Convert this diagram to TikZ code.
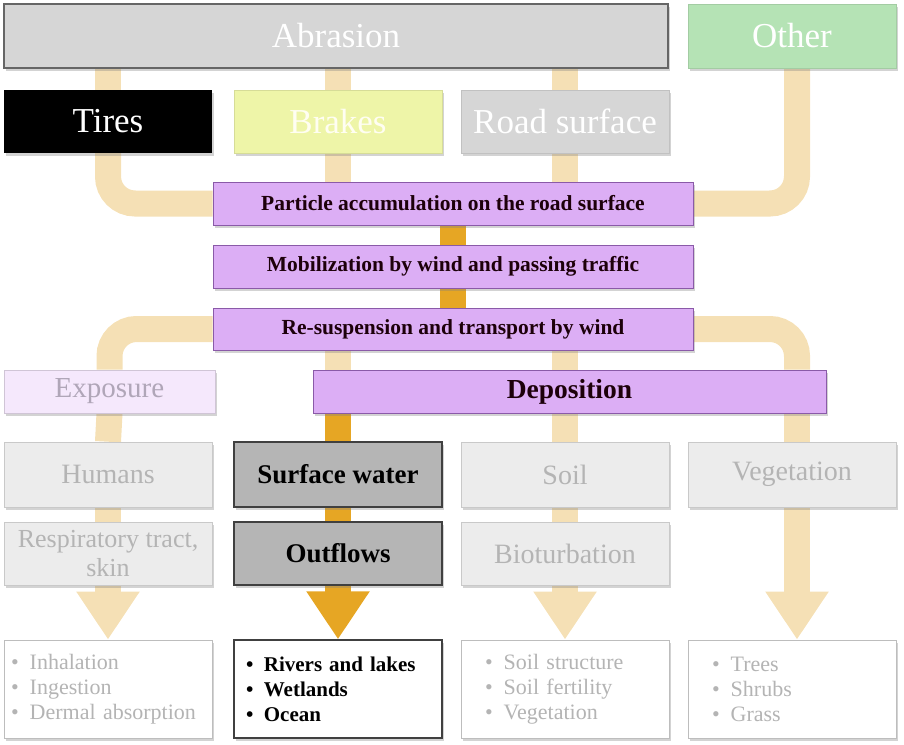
\documentclass[tikz,border=0pt]{standalone}
\usepackage{fontspec}
\setmainfont{Liberation Serif}
\usetikzlibrary{backgrounds,shadows,arrows.meta}
\definecolor{beige}{HTML}{F5E0B5}
\definecolor{orng}{HTML}{E6A624}
\definecolor{purp}{HTML}{DCAEF5}
\definecolor{purpd}{HTML}{8A5AA8}
\definecolor{lgray}{HTML}{ECECEC}
\definecolor{lgtxt}{HTML}{B4B4B4}
\definecolor{mgray}{HTML}{D6D6D6}
\definecolor{dgray}{HTML}{B5B5B5}
\definecolor{grn}{HTML}{B5E3B5}
\definecolor{ylw}{HTML}{EEF5A8}
\definecolor{expo}{HTML}{F5E8FC}
\definecolor{expotxt}{HTML}{B0A6B8}
\tikzset{
  x=1pt, y=-1pt,
  box/.style={rectangle, inner sep=2pt, align=center,
    drop shadow={shadow xshift=2pt, shadow yshift=-3pt, opacity=.35}},
  topbox/.style={box, minimum width=208pt, minimum height=64pt, font=\fontsize{35}{38}\selectfont},
  purpbox/.style={box, fill=purp, draw=purpd, line width=1pt, minimum width=480pt, minimum height=43pt,
    text=black!85!purple, font=\fontsize{21.5}{24}\selectfont\bfseries},
  rowbox/.style={box, fill=lgray, draw=lgray!85!black, line width=.6pt, minimum width=208pt, minimum height=64pt,
    text=lgtxt, font=\fontsize{28}{30}\selectfont},
  darkbox/.style={box, fill=dgray, draw=black!75, line width=1.3pt, minimum width=208pt, minimum height=64pt,
    text=black, font=\fontsize{27}{30}\selectfont\bfseries},
  listbox/.style={box, fill=white, draw=lgray!80!black, line width=.8pt, minimum width=208pt, minimum height=98pt,
    align=left, text=lgtxt, font=\fontsize{22}{25}\selectfont},
  conn/.style={beige, line width=26pt, rounded corners=27pt},
  oconn/.style={orng, line width=26pt},
  fat/.style={-{Triangle[length=48pt,width=60pt]}},
}
\newcommand{\bl}{\textbullet\hspace{0.5em}}
\begin{document}
\begin{tikzpicture}
\useasboundingbox (0,0) rectangle (904,744);
% top
\node[topbox, fill=mgray, draw=black!60, line width=1.3pt, minimum width=664pt, text=white] (abr) at (336,36) {Abrasion};
\node[topbox, fill=grn, draw=grn!90!black, text=white] (other) at (792,36) {Other};
\node[topbox, fill=black, minimum height=63pt, text=white] (tires) at (108,121.5) {Tires};
\node[topbox, fill=ylw, draw=ylw!90!black, minimum height=63pt, text=white!95!yellow] (brakes) at (338,121.5) {Brakes};
\node[topbox, fill=mgray, draw=mgray!90!black, minimum height=63pt, text=white] (road) at (565,121.5) {Road surface};
% purple chain
\node[purpbox] (part) at (453,203.5) {Particle accumulation on the road surface};
\node[purpbox] (mob) at (453,266.5) {Mobilization by wind and passing traffic};
\node[purpbox, minimum height=42pt] (resus) at (453,329) {Re-suspension and transport by wind};
\node[box, fill=expo, draw=expo!85!black, line width=.6pt, minimum width=211pt, minimum height=43pt,
  text=expotxt, font=\fontsize{29}{30}\selectfont] (expo) at (109.5,391.5) {Exposure};
\node[purpbox, minimum width=513pt, font=\fontsize{27.5}{30}\selectfont\bfseries] (depo) at (569.5,391.5) {Deposition};
% rows
\node[rowbox, minimum height=65pt] (hum) at (108,474.5) {Humans};
\node[darkbox, minimum height=65pt] (surf) at (338,474.5) {Surface water};
\node[rowbox, minimum height=65pt] (soil) at (565,474.5) {Soil};
\node[rowbox, minimum height=65pt] (veg) at (792,474.5) {Vegetation};
\node[rowbox, minimum height=63pt, font=\fontsize{26}{29}\selectfont] (resp) at (108,553.5) {Respiratory tract,\\skin};
\node[darkbox, minimum height=63pt] (out) at (338,553.5) {Outflows};
\node[rowbox, minimum height=63pt] (bio) at (565,553.5) {Bioturbation};
% lists
\node[listbox, inner xsep=7pt, text width=194pt] (l1) at (108,689) {\bl Inhalation\\\bl Ingestion\\\bl Dermal absorption};
\node[listbox, draw=black!75, line width=1.3pt, text=black, inner xsep=12pt, text width=184pt,
  font=\fontsize{21}{25}\selectfont\bfseries] (l2) at (338,689) {\bl Rivers and lakes\\\bl Wetlands\\\bl Ocean};
\node[listbox, inner xsep=24pt, text width=160pt] (l3) at (565,689) {\bl Soil structure\\\bl Soil fertility\\\bl Vegetation};
\node[listbox, inner xsep=24pt, text width=160pt] (l4) at (792,689) {\bl Trees\\\bl Shrubs\\\bl Grass};
% connectors
\begin{scope}[on background layer]
\draw[conn] (tires.north |- abr.south) -- (tires.north);
\draw[conn] (brakes.north |- abr.south) -- (brakes.north);
\draw[conn] (road.north |- abr.south) -- (road.north);
\draw[conn] (tires.south) |- (part.west);
\draw[conn] (brakes.south) -- (brakes.south |- part.north);
\draw[conn] (road.south) -- (road.south |- part.north);
\draw[conn] ([xshift=5pt]other.south) |- (part.east);
\draw[oconn] (part.south) -- (mob.north);
\draw[oconn] (mob.south) -- (resus.north);
\draw[conn] (resus.west) -| (expo.north);
\draw[conn] (resus.east) -| ([xshift=5pt]veg.north |- depo.north);
\draw[conn] (surf.north |- resus.south) -- (surf.north |- depo.north);
\draw[conn] (soil.north |- resus.south) -- (soil.north |- depo.north);
\draw[oconn] (surf.north |- depo.south) -- (surf.north);
\draw[conn] (soil.north |- depo.south) -- (soil.north);
\draw[conn] ([xshift=5pt]veg.north |- depo.south) -- ([xshift=5pt]veg.north);
\draw[conn] (expo.south) -- (hum.north);
\draw[conn] (hum.south) -- (resp.north);
\draw[oconn] (surf.south) -- (out.north);
\draw[conn] (soil.south) -- (bio.north);
\draw[conn, fat] (resp.south) -- (l1.north);
\draw[oconn, fat] (out.south) -- (l2.north);
\draw[conn, fat] (bio.south) -- (l3.north);
\draw[conn, fat] ([xshift=5pt]veg.south) -- ([xshift=5pt]l4.north);
\end{scope}
\end{tikzpicture}
\end{document}
